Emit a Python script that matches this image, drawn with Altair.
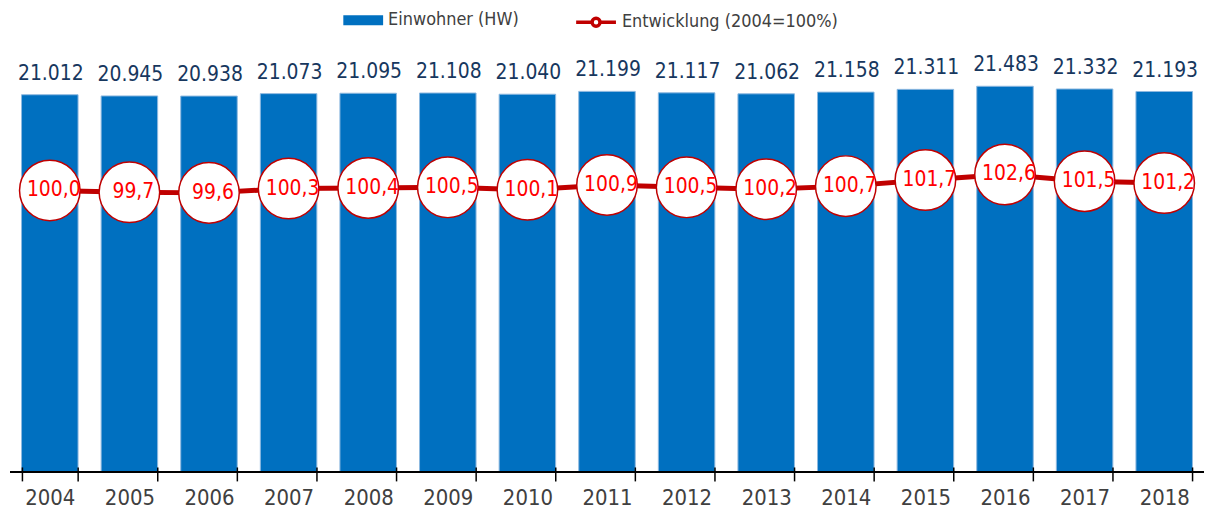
import altair as alt
import pandas as pd

years = [str(y) for y in range(2004, 2019)]
einwohner = [21012, 20945, 20938, 21073, 21095, 21108, 21040, 21199, 21117,
             21062, 21158, 21311, 21483, 21332, 21193]
einwohner_labels = ["21.012", "20.945", "20.938", "21.073", "21.095", "21.108",
                    "21.040", "21.199", "21.117", "21.062", "21.158", "21.311",
                    "21.483", "21.332", "21.193"]
index = [100.0, 99.7, 99.6, 100.3, 100.4, 100.5, 100.1, 100.9, 100.5, 100.2,
         100.7, 101.7, 102.6, 101.5, 101.2]
index_labels = ["100,0", "99,7", "99,6", "100,3", "100,4", "100,5", "100,1",
                "100,9", "100,5", "100,2", "100,7", "101,7", "102,6", "101,5",
                "101,2"]
series_bar = "Einwohner (HW)"
series_line = "Entwicklung (2004=100%)"

df = pd.DataFrame({
    "Jahr": years,
    "Einwohner": einwohner,
    "EinwLabel": einwohner_labels,
    "Index": index,
    "IndexLabel": index_labels,
    "SerieBar": series_bar,
    "SerieLine": series_line,
})

FONT = "DejaVu Sans Condensed, DejaVu Sans, sans-serif"

x_scale = alt.Scale(paddingInner=0.29, paddingOuter=0.145)

# axis moved 5px up so that its ticks cross the baseline; the baseline is a rule
x_enc = alt.X("Jahr:N", sort=years, title=None, scale=x_scale,
              axis=alt.Axis(orient="bottom", offset=-5, labelAngle=0,
                            labelFontSize=22, labelFont=FONT,
                            labelColor="#404040", domain=False,
                            tickColor="#000000", tickWidth=1.5,
                            tickSize=14, tickBand="extent", labelPadding=7,
                            grid=False, zindex=1))

y_bar = alt.Y("Einwohner:Q", scale=alt.Scale(domain=[0, 24000], nice=False),
              axis=None)
y_line = alt.Y("Index:Q", scale=alt.Scale(domain=[54, 124.4], nice=False, zero=False),
               axis=None)

base = alt.Chart(df)

bars = base.mark_bar(stroke="#8DB8E0", strokeWidth=1).encode(
    x=x_enc,
    y=y_bar,
    color=alt.Color("SerieBar:N", scale=alt.Scale(range=["#0070C0"]),
                    legend=alt.Legend(orient="none", legendX=345, legendY=-31,
                                      title=None,
                                      symbolType="M-2,-0.5H2V0.5H-2Z",
                                      symbolSize=400, symbolStrokeWidth=0,
                                      labelFontSize=18, labelFont=FONT,
                                      labelLimit=400,
                                      labelColor="#404040", labelOffset=15)),
)

baseline = base.mark_rule(color="#000000", strokeWidth=1.5).encode(
    x=alt.value(0), x2=alt.value(1200), y=alt.value(433),
)

bar_text = base.mark_text(baseline="alphabetic", dy=-15, dx=1, fontSize=21,
                          font=FONT, color="#17375E").encode(
    x=alt.X("Jahr:N", sort=years),
    y=y_bar,
    text="EinwLabel:N",
)

line = base.mark_line(strokeWidth=5).encode(
    x=alt.X("Jahr:N", sort=years),
    y=y_line,
    stroke=alt.Stroke("SerieLine:N", scale=alt.Scale(range=["#C00000"]),
                      legend=alt.Legend(orient="none", legendX=577, legendY=-31,
                                        title=None,
                                        symbolType="M-2,0H-0.4M0.4,0H2M-0.4,0A0.4,0.4 0 1,0 0.4,0A0.4,0.4 0 1,0 -0.4,0Z",
                                        symbolSize=400, symbolStrokeWidth=3.5,
                                        symbolFillColor="white",
                                        labelFontSize=18, labelFont=FONT,
                                        labelLimit=400,
                                        labelColor="#404040", labelOffset=14)),
)

circles = base.mark_point(filled=True, fill="white", stroke="#C00000",
                          strokeWidth=1.5, size=3700, opacity=1,
                          shape="circle").encode(
    x=alt.X("Jahr:N", sort=years),
    y=y_line,
)

idx_text = base.mark_text(baseline="middle", dx=4, fontSize=21, font=FONT,
                          color="#FF0000").encode(
    x=alt.X("Jahr:N", sort=years),
    y=y_line,
    text="IndexLabel:N",
)

left = alt.layer(bars, baseline, bar_text)
right = alt.layer(line, circles, idx_text)

chart = alt.layer(left, right).resolve_scale(
    y="independent", color="independent", stroke="independent"
).properties(
    width=1200, height=433,
    autosize=alt.AutoSizeParams(type="none"),
    padding={"left": 2, "top": 32, "right": 0, "bottom": 38},
    background="white",
).configure_view(stroke=None)

chart.save("out.html", embed_options={"renderer": "svg", "actions": False})
